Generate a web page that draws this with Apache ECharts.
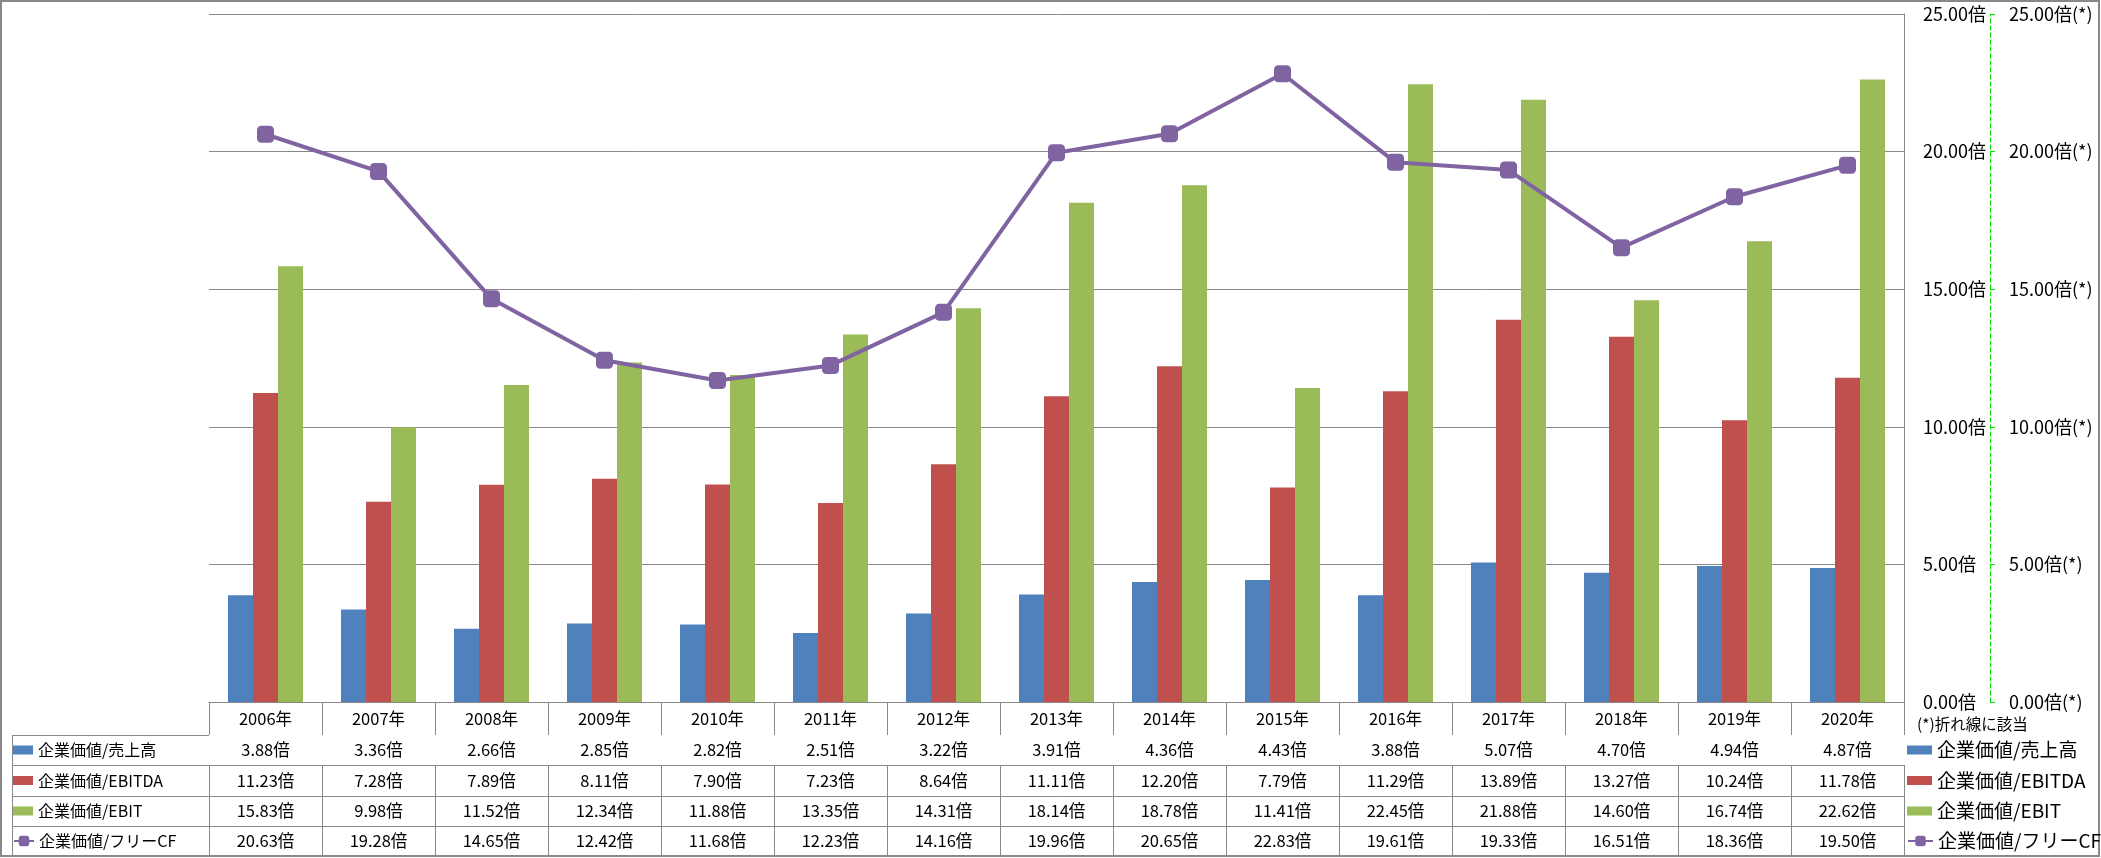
<!DOCTYPE html>
<html>
<head>
<meta charset="utf-8">
<script src="https://cdn.jsdelivr.net/npm/echarts@6/dist/echarts.min.js"></script>
<style>
html,body{margin:0;padding:0;background:#fff;}
#c{width:2101px;height:858px;}
</style>
</head>
<body>
<div id="c"></div>
<script>
const categories = ['2006年','2007年','2008年','2009年','2010年','2011年','2012年','2013年','2014年','2015年','2016年','2017年','2018年','2019年','2020年'];
const evSales  = [3.88,3.36,2.66,2.85,2.82,2.51,3.22,3.91,4.36,4.43,3.88,5.07,4.70,4.94,4.87];
const evEbitda = [11.23,7.28,7.89,8.11,7.90,7.23,8.64,11.11,12.20,7.79,11.29,13.89,13.27,10.24,11.78];
const evEbit   = [15.83,9.98,11.52,12.34,11.88,13.35,14.31,18.14,18.78,11.41,22.45,21.88,14.60,16.74,22.62];
const evFcf    = [20.63,19.28,14.65,12.42,11.68,12.23,14.16,19.96,20.65,22.83,19.61,19.33,16.51,18.36,19.50];
const seriesNames = ['企業価値/売上高','企業価値/EBITDA','企業価値/EBIT','企業価値/フリーCF'];
const yTicks = [0,5,10,15,20,25];

const colors = ['#4F81BD','#C0504D','#9BBB59','#8064A2'];
const FONT = 'Noto Sans CJK JP';
const GRAY = '#888888';
const rowsData = [evSales, evEbitda, evEbit, evFcf];

// table geometry (layout, not data)
const rowOffsets = [33, 63, 94, 124];
const rowHeights = [30, 31, 30, 30];
const rowCenters = [750, 780.5, 811, 841];
const TABLE_FS = 16.5;

const chart = echarts.init(document.getElementById('c'));

const xAxes = [{
  type: 'category', data: categories, position: 'bottom', offset: 0, gridIndex: 0,
  axisLine: {show: true, lineStyle: {color: GRAY, width: 1}},
  axisTick: {show: true, length: 33, alignWithLabel: false, lineStyle: {color: GRAY}},
  axisLabel: {interval: 0, margin: 16.5, verticalAlign: 'middle', fontFamily: FONT, fontSize: TABLE_FS, color: '#000'}
}];
rowsData.forEach((arr, r) => {
  xAxes.push({
    type: 'category', data: categories, position: 'bottom', offset: rowOffsets[r], gridIndex: 0,
    axisLine: {show: true, lineStyle: {color: GRAY, width: 1}},
    axisTick: {show: true, length: rowHeights[r], alignWithLabel: false, lineStyle: {color: GRAY}},
    axisLabel: {interval: 0, margin: rowHeights[r] / 2, verticalAlign: 'middle', fontFamily: FONT, fontSize: TABLE_FS, color: '#000',
      formatter: (v, i) => arr[i].toFixed(2) + '倍'}
  });
});

const legends = [];
seriesNames.forEach((n, i) => {
  const isLine = i === 3;
  legends.push({
    data: [n], left: 13, top: rowCenters[i] - 10, padding: 0, orient: 'horizontal',
    itemWidth: 20, itemHeight: isLine ? 13 : 9, selectedMode: false, icon: isLine ? undefined : 'rect',
    textStyle: {fontFamily: FONT, fontSize: 16, color: '#000', lineHeight: 20}
  });
  legends.push({
    data: [n], left: 1907, top: rowCenters[i] - 10, padding: 0, orient: 'horizontal',
    itemWidth: 25, itemHeight: isLine ? 13 : 9, selectedMode: false, icon: isLine ? undefined : 'rect',
    textStyle: {fontFamily: FONT, fontSize: 19, color: '#000', lineHeight: 20}
  });
});

const gline = (x1, y1, x2, y2) => ({type: 'line', silent: true, shape: {x1, y1, x2, y2}, style: {stroke: GRAY, lineWidth: 1}});

const option = {
  animation: false,
  backgroundColor: '#fff',
  textStyle: {fontFamily: FONT},
  title: {text: '(*)折れ線に該当', left: 1917, top: 714, padding: 0,
    textStyle: {fontFamily: FONT, fontSize: 15.5, fontWeight: 'normal', color: '#000', lineHeight: 20}},
  grid: {left: 209, right: 197, top: 14, bottom: 156, containLabel: false, outerBoundsMode: 'none'},
  legend: legends,
  xAxis: xAxes,
  yAxis: [{
    type: 'value', min: 0, max: 25, interval: 5, position: 'right',
    axisLine: {show: true, lineStyle: {color: GRAY}},
    axisTick: {show: false},
    splitLine: {show: true, lineStyle: {color: GRAY, width: 1}},
    axisLabel: {margin: 19, fontFamily: FONT, fontSize: 18, color: '#000', formatter: v => v.toFixed(2) + '倍'}
  }, {
    type: 'value', min: 0, max: 25, interval: 5, position: 'right', offset: 86,
    axisLine: {show: true, lineStyle: {color: '#00dd00', type: [4, 3], width: 1}},
    axisTick: {show: true, length: 5, inside: false, lineStyle: {color: '#00dd00'}},
    splitLine: {show: false},
    axisLabel: {margin: 19, fontFamily: FONT, fontSize: 18, color: '#000', formatter: v => v.toFixed(2) + '倍(*)'}
  }],
  series: [
    {name: seriesNames[0], type: 'bar', data: evSales, barWidth: 25, barGap: '0%', itemStyle: {color: colors[0]}},
    {name: seriesNames[1], type: 'bar', data: evEbitda, barWidth: 25, barGap: '0%', itemStyle: {color: colors[1]}},
    {name: seriesNames[2], type: 'bar', data: evEbit, barWidth: 25, barGap: '0%', itemStyle: {color: colors[2]}},
    {name: seriesNames[3], type: 'line', yAxisIndex: 1, data: evFcf, z: 5,
      symbol: 'roundRect', symbolSize: 17, showAllSymbol: true,
      lineStyle: {color: colors[3], width: 4}, itemStyle: {color: colors[3]}}
  ],
  graphic: [
    {type: 'rect', silent: true, shape: {x: 1, y: 1, width: 2098, height: 855}, style: {fill: null, stroke: GRAY, lineWidth: 2}},
    gline(12, 735.5, 209, 735.5),
    gline(12, 765.5, 209, 765.5),
    gline(12, 796.5, 209, 796.5),
    gline(12, 826.5, 209, 826.5),
    gline(12.5, 735.5, 12.5, 856)
  ]
};
chart.setOption(option);
</script>
</body>
</html>
